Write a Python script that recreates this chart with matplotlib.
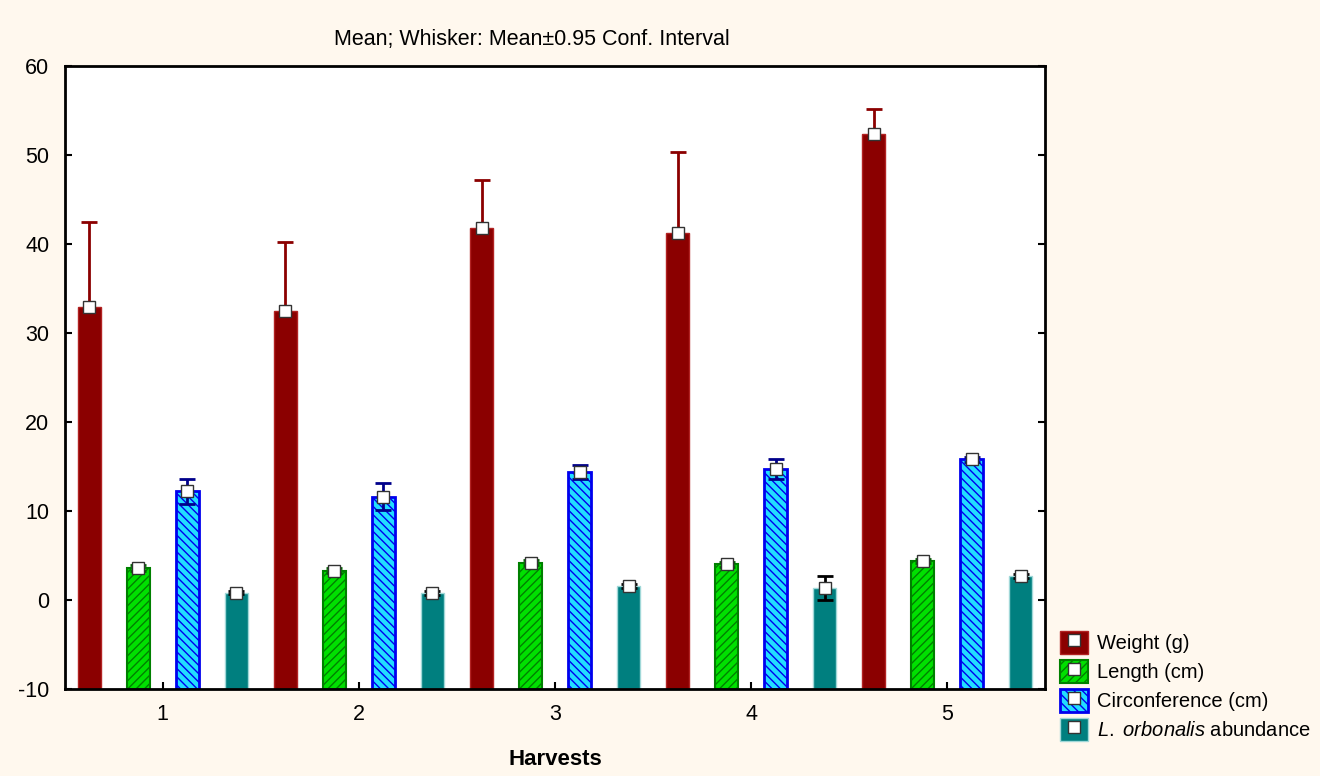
import numpy as np
import matplotlib.pyplot as plt
from matplotlib.patches import Patch
from matplotlib.lines import Line2D

plt.rcParams['font.family'] = ['Liberation Sans', 'DejaVu Sans']
plt.rcParams['mathtext.fontset'] = 'custom'
plt.rcParams['mathtext.it'] = 'Liberation Sans:italic'
plt.rcParams['mathtext.rm'] = 'Liberation Sans'
plt.rcParams['hatch.linewidth'] = 1.0
plt.rcParams['axes.unicode_minus'] = False

# data
harvests = [1, 2, 3, 4, 5]
weight = [32.9, 32.5, 41.8, 41.2, 52.4]
weight_ci = [9.6, 7.7, 5.4, 9.1, 2.8]
length = [3.6, 3.3, 4.2, 4.0, 4.4]
length_ci = [0.3, 0.3, 0.25, 0.3, 0.25]
circ = [12.2, 11.6, 14.4, 14.7, 15.8]
circ_ci = [1.4, 1.5, 0.8, 1.1, 0.3]
abund = [0.85, 0.8, 1.6, 1.35, 2.7]
abund_ci = [0.2, 0.2, 0.25, 1.35, 0.2]

labels = ['Weight (g)', 'Length (cm)', 'Circonference (cm)',
          r'$\it{L.\ orbonalis}$ abundance']

BG = '#fff8ee'
BASE = -10

fig = plt.figure(figsize=(13.2, 7.76), dpi=100, facecolor=BG)
ax = fig.add_axes([0.049, 0.112, 0.743, 0.803])
ax.set_facecolor('white')

x = np.array(harvests, dtype=float)
w = 0.118
offs = [-0.375, -0.125, 0.125, 0.375]

styles = [
    dict(face='#8b0000', edge='#b22222', hatch=None, err='#8b0000', lw=1.0),
    dict(face='#00e000', edge='#008000', hatch='////', err='#006400', lw=1.5),
    dict(face='#22ddff', edge='#0000ee', hatch='\\\\\\\\', err='#00008b', lw=2.0),
    dict(face='#007f7f', edge='#a0d8d8', hatch=None, err='black', lw=1.0),
]
series = [(weight, weight_ci), (length, length_ci), (circ, circ_ci), (abund, abund_ci)]

for (vals, ci), st, off in zip(series, styles, offs):
    vals = np.array(vals)
    xs = x + off
    ax.bar(xs, vals - BASE, width=w, bottom=BASE, color=st['face'],
           edgecolor=st['edge'], hatch=st['hatch'], linewidth=st['lw'], zorder=2)
    ax.errorbar(xs, vals, yerr=ci, fmt='none', ecolor=st['err'], elinewidth=2,
                capsize=6, capthick=2, zorder=3)
    ax.plot(xs, vals, 's', ms=8.5, mfc='white', mec='#333333', mew=1.0, zorder=4)

ax.set_xlim(0.5, 5.5)
ax.set_ylim(-10, 60)
ax.set_yticks(np.arange(-10, 61, 10))
ax.set_xticks(harvests)
ax.tick_params(direction='in', length=5, width=1.5, labelsize=15.5, pad=11,
               right=True, colors='black')
for s in ax.spines.values():
    s.set_linewidth(2)

ax.set_xlabel('Harvests', fontsize=16, fontweight='bold', labelpad=17)
fig.text(0.403, 0.949, 'Mean; Whisker: Mean\u00b10.95 Conf. Interval',
         fontsize=15.5, ha='center', va='center')

handles = []
for st in styles:
    p = Patch(facecolor=st['face'], edgecolor=st['edge'], hatch=st['hatch'],
              linewidth=st['lw'])
    m = Line2D([], [], marker='s', ls='none', ms=8, mfc='white', mec='#333333')
    handles.append((p, m))
fig.legend(handles, labels, loc='lower left', bbox_to_anchor=(0.797, 0.035),
           frameon=False, fontsize=14.5, handlelength=1.4, handleheight=1.35,
           handletextpad=0.45, labelspacing=0.32, borderaxespad=0)

fig.savefig('out.png', dpi=100, facecolor=BG)
